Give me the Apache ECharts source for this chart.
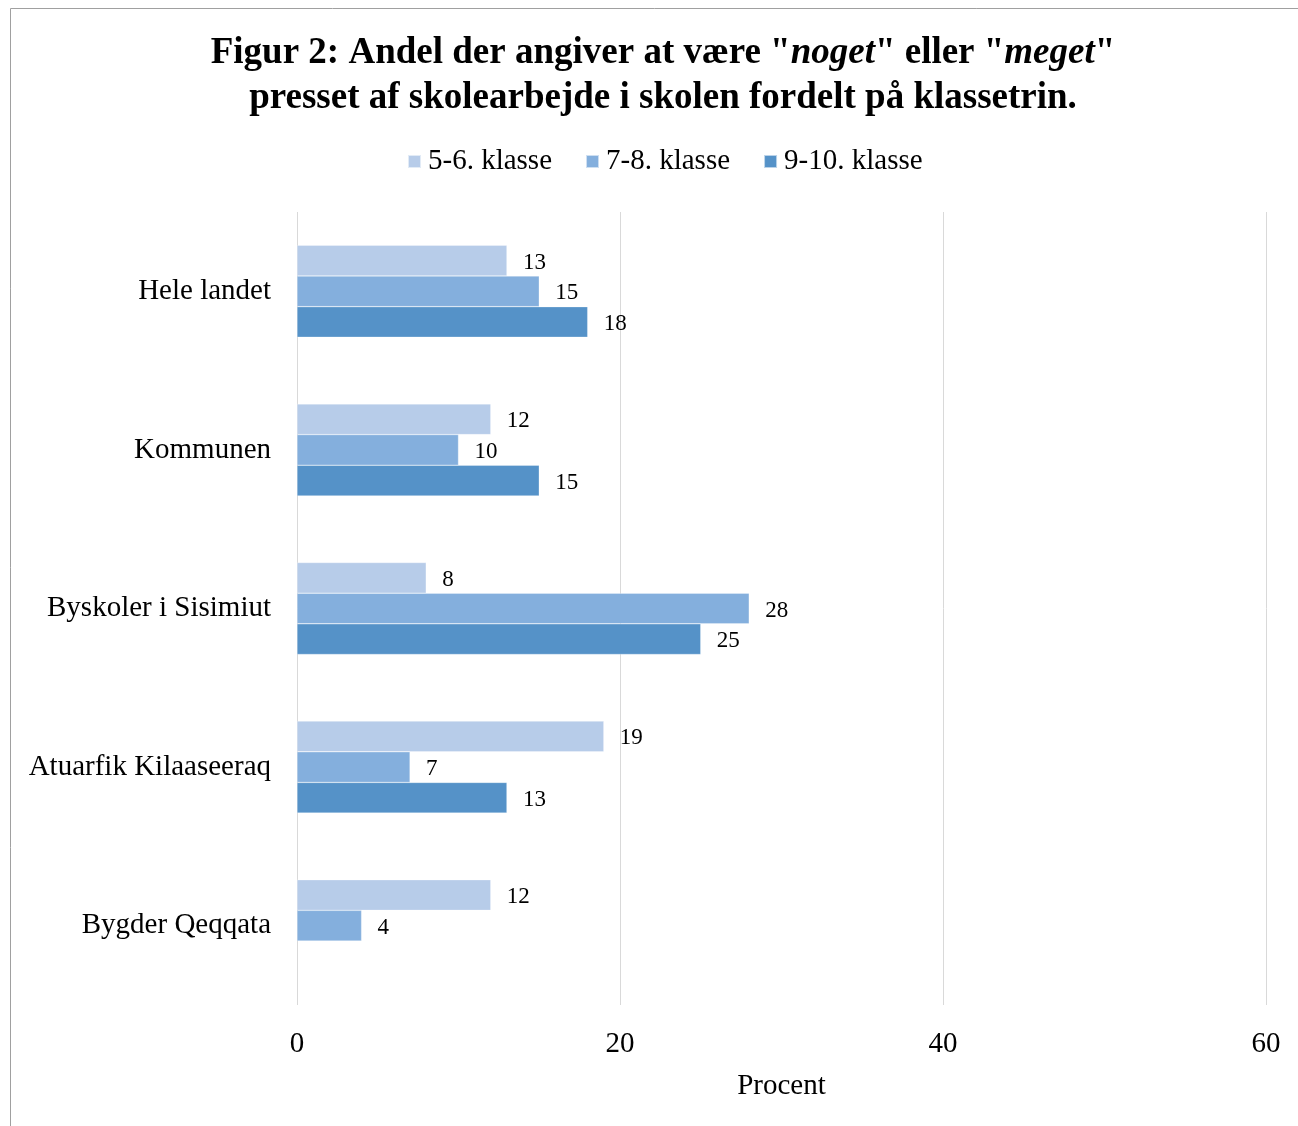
<!DOCTYPE html>
<html>
<head>
<meta charset="utf-8">
<title>Figur 2</title>
<script src="https://cdn.jsdelivr.net/npm/echarts@6/dist/echarts.min.js"></script>
<style>
  html, body { margin: 0; padding: 0; background: #ffffff; }
  #chart { width: 1298px; height: 1126px; }
</style>
</head>
<body>
<div id="chart"></div>
<script>
// Categories (top to bottom) and the share per class level, in percent
const categories = ['Hele landet', 'Kommunen', 'Byskoler i Sisimiut', 'Atuarfik Kilaaseeraq', 'Bygder Qeqqata'];
const seriesNames = ['5-6. klasse', '7-8. klasse', '9-10. klasse'];
const klasse56 = [13, 12, 8, 19, 12];
const klasse78 = [15, 10, 28, 7, 4];
const klasse910 = [18, 15, 25, 13, null];
const xTicks = [0, 20, 40, 60];

const colors = ['#B7CCE9', '#84AFDD', '#5592C8'];
const serif = '"Liberation Serif", "Times New Roman", serif';

const chart = echarts.init(document.getElementById('chart'), null, { renderer: 'canvas' });

function barSeries(name, data, color) {
  return {
    name: name,
    type: 'bar',
    data: data,
    barGap: '0%',
    barCategoryGap: '42%',
    itemStyle: { color: color, borderColor: 'rgba(255,255,255,0.6)', borderWidth: 0.5 },
    label: {
      show: true,
      position: 'right',
      distance: 16,
      offset: [0, 2],
      fontFamily: serif,
      fontSize: 23,
      color: '#000',
      formatter: p => (p.value == null ? '' : String(p.value))
    },
    emphasis: { disabled: true }
  };
}

chart.setOption({
  animation: false,
  color: colors,
  title: {
    text: '{b|Figur 2: Andel der angiver at være "}{bi|noget}{b|" eller "}{bi|meget}{b|"}\n{b|presset af skolearbejde i skolen fordelt på klassetrin.}',
    left: 658,
    textAlign: 'center',
    top: 26,
    textStyle: {
      rich: {
        b: { fontFamily: serif, fontWeight: 'bold', fontSize: 37, color: '#000', lineHeight: 45 },
        bi: { fontFamily: serif, fontWeight: 'bold', fontStyle: 'italic', fontSize: 37, color: '#000', lineHeight: 45 }
      }
    }
  },
  legend: {
    data: seriesNames,
    top: 142,
    left: 402,
    itemWidth: 13,
    itemHeight: 13,
    itemGap: 33,
    icon: 'rect',
    textStyle: { fontFamily: serif, fontSize: 29, color: '#000', padding: [0, 0, 0, 2] }
  },
  grid: { left: 297, right: 32, top: 212, bottom: 121, containLabel: false },
  xAxis: {
    type: 'value',
    min: xTicks[0],
    max: xTicks[xTicks.length - 1],
    interval: 20,
    name: 'Procent',
    nameLocation: 'middle',
    nameGap: 67,
    nameTextStyle: { fontFamily: serif, fontSize: 29, color: '#000' },
    axisLine: { show: false },
    axisTick: { show: false },
    axisLabel: { fontFamily: serif, fontSize: 29, color: '#000', margin: 25 },
    splitLine: { show: true, lineStyle: { color: '#D9D9D9', width: 1 } }
  },
  yAxis: {
    type: 'category',
    data: categories,
    inverse: true,
    axisLine: { show: false },
    axisTick: { show: false },
    axisLabel: { fontFamily: serif, fontSize: 29, color: '#000', margin: 26 }
  },
  graphic: [{
    type: 'rect',
    shape: { x: 10.5, y: 8.5, width: 1400, height: 1300 },
    style: { fill: 'none', stroke: '#A0A0A0', lineWidth: 1 },
    silent: true,
    z: -1
  }],
  series: [
    barSeries(seriesNames[0], klasse56, colors[0]),
    barSeries(seriesNames[1], klasse78, colors[1]),
    barSeries(seriesNames[2], klasse910, colors[2])
  ]
});
</script>
</body>
</html>
